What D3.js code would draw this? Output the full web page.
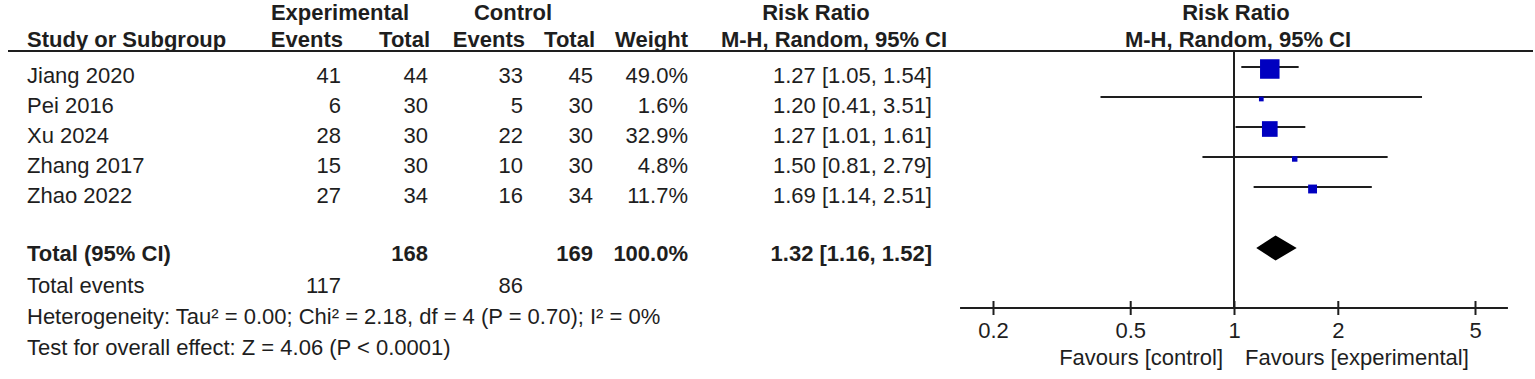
<!DOCTYPE html>
<html>
<head>
<meta charset="utf-8">
<script src="https://cdn.jsdelivr.net/npm/d3@7"></script>
<style>
  html, body { margin: 0; padding: 0; background: #fff; }
  svg { display: block; }
  text { font-family: "Liberation Sans", Arial, sans-serif; fill: #1e1e1e; }
</style>
</head>
<body>
<svg id="chart" width="1535" height="379"></svg>
<script>
// ---- data ----
const studies = ["Jiang 2020", "Pei 2016", "Xu 2024", "Zhang 2017", "Zhao 2022"];
const expEvents = [41, 6, 28, 15, 27];
const expTotal = [44, 30, 30, 30, 34];
const ctrlEvents = [33, 5, 22, 10, 16];
const ctrlTotal = [45, 30, 30, 30, 34];
const weights = [49.0, 1.6, 32.9, 4.8, 11.7];
const rr = [1.27, 1.20, 1.27, 1.50, 1.69];
const rrLower = [1.05, 0.41, 1.01, 0.81, 1.14];
const rrUpper = [1.54, 3.51, 1.61, 2.79, 2.51];
const pooled = [1.32, 1.16, 1.52]; // estimate, lower, upper
const totals = { exp: 168, ctrl: 169, weight: "100.0%" };
const totalEvents = { exp: 117, ctrl: 86 };
const tickValues = [0.2, 0.5, 1, 2, 5];
const tickLabels = ["0.2", "0.5", "1", "2", "5"];
const axisExtent = [0.1605, 6.23];
const hetText = "Heterogeneity: Tau\u00B2 = 0.00; Chi\u00B2 = 2.18, df = 4 (P = 0.70); I\u00B2 = 0%";
const testText = "Test for overall effect: Z = 4.06 (P < 0.0001)";

// ---- layout ----
const svg = d3.select("#chart");
const FS = 22;
const col = { study: 27, expEv: 341, expTot: 428, ctlEv: 523, ctlTot: 593, weight: 688, rr: 932 };
// plot row lines; study text baselines sit 16px lower
const rowY = d3.scalePoint().domain(studies).range([67, 187]);
const textOff = 16;
const totalY = 248, evY = 277, hetY = 308, testY = 339;

const x = d3.scaleLog().domain([0.2, 5]).range([993, 1475]);
const axisY = 308;
const headLineY = 51;

function txt(xp, yp, s, anchor, bold) {
  svg.append("text").attr("x", xp).attr("y", yp)
    .attr("text-anchor", anchor || "start")
    .attr("font-size", FS)
    .attr("font-weight", bold ? "bold" : "normal")
    .text(s);
}

// headers
txt(340, 20, "Experimental", "middle", true);
txt(513, 20, "Control", "middle", true);
txt(816, 20, "Risk Ratio", "middle", true);
txt(1236, 20, "Risk Ratio", "middle", true);
txt(col.study, 47, "Study or Subgroup", "start", true);
txt(col.expEv + 2, 47, "Events", "end", true);
txt(col.expTot + 2, 47, "Total", "end", true);
txt(col.ctlEv + 2, 47, "Events", "end", true);
txt(col.ctlTot + 2, 47, "Total", "end", true);
txt(col.weight, 47, "Weight", "end", true);
txt(834, 47, "M-H, Random, 95% CI", "middle", true);
txt(1238, 47, "M-H, Random, 95% CI", "middle", true);

svg.append("line").attr("x1", 8).attr("x2", 1533)
  .attr("y1", headLineY).attr("y2", headLineY)
  .attr("stroke", "#1e1e1e").attr("stroke-width", 2);

// study rows
studies.forEach((s, i) => {
  const y = rowY(s) + textOff;
  txt(col.study, y, s);
  txt(col.expEv, y, expEvents[i], "end");
  txt(col.expTot, y, expTotal[i], "end");
  txt(col.ctlEv, y, ctrlEvents[i], "end");
  txt(col.ctlTot, y, ctrlTotal[i], "end");
  txt(col.weight, y, weights[i].toFixed(1) + "%", "end");
  txt(col.rr, y, `${rr[i].toFixed(2)} [${rrLower[i].toFixed(2)}, ${rrUpper[i].toFixed(2)}]`, "end");
});

// total rows
txt(col.study, totalY + 13, "Total (95% CI)", "start", true);
txt(col.expTot, totalY + 13, totals.exp, "end", true);
txt(col.ctlTot, totalY + 13, totals.ctrl, "end", true);
txt(col.weight, totalY + 13, totals.weight, "end", true);
txt(col.rr, totalY + 13, `${pooled[0].toFixed(2)} [${pooled[1].toFixed(2)}, ${pooled[2].toFixed(2)}]`, "end", true);
txt(col.study, evY + 16, "Total events");
txt(col.expEv, evY + 16, totalEvents.exp, "end");
txt(col.ctlEv, evY + 16, totalEvents.ctrl, "end");
txt(col.study, hetY + 16, hetText);
txt(col.study, testY + 16, testText);

// ---- forest plot ----
const g = svg.append("g");
// line of no effect
g.append("line").attr("x1", x(1)).attr("x2", x(1))
  .attr("y1", headLineY).attr("y2", axisY)
  .attr("stroke", "#1e1e1e").attr("stroke-width", 2);

const size = d3.scalePow().exponent(0.55).domain([0, d3.max(weights)]).range([0, 19.5]);

studies.forEach((s, i) => {
  const y = rowY(s);
  g.append("line").attr("x1", x(rrLower[i])).attr("x2", x(rrUpper[i]))
    .attr("y1", y).attr("y2", y).attr("stroke", "#1e1e1e").attr("stroke-width", 2);
  const sz = Math.max(4.7, size(weights[i]));
  g.append("rect").attr("x", x(rr[i]) - sz / 2).attr("y", y + 2 - sz / 2)
    .attr("width", sz).attr("height", sz).attr("fill", "#0000c0");
});

// pooled diamond
const dh = 12.5;
g.append("path")
  .attr("d", `M${x(pooled[1])},${totalY} L${x(pooled[0])},${totalY - dh} L${x(pooled[2])},${totalY} L${x(pooled[0])},${totalY + dh} Z`)
  .attr("fill", "#000");

// axis
const axis = d3.axisBottom(x).tickValues(tickValues).tickFormat((d, i) => tickLabels[i]).tickSize(0);
const ax = g.append("g").attr("transform", `translate(0,${axisY})`).call(axis);
ax.select(".domain").remove();
ax.selectAll(".tick text").attr("font-size", FS).attr("dy", null).attr("y", 30)
  .attr("font-family", "Liberation Sans, Arial, sans-serif").attr("fill", "#1e1e1e");
ax.selectAll(".tick").append("line").attr("y1", -7).attr("y2", 7)
  .attr("stroke", "#1e1e1e").attr("stroke-width", 2);
g.append("line").attr("x1", x(axisExtent[0])).attr("x2", x(axisExtent[1]))
  .attr("y1", axisY).attr("y2", axisY).attr("stroke", "#1e1e1e").attr("stroke-width", 2);

txt(x(1) - 11, 365, "Favours [control]", "end");
txt(x(1) + 11, 365, "Favours [experimental]", "start");
</script>
</body>
</html>
